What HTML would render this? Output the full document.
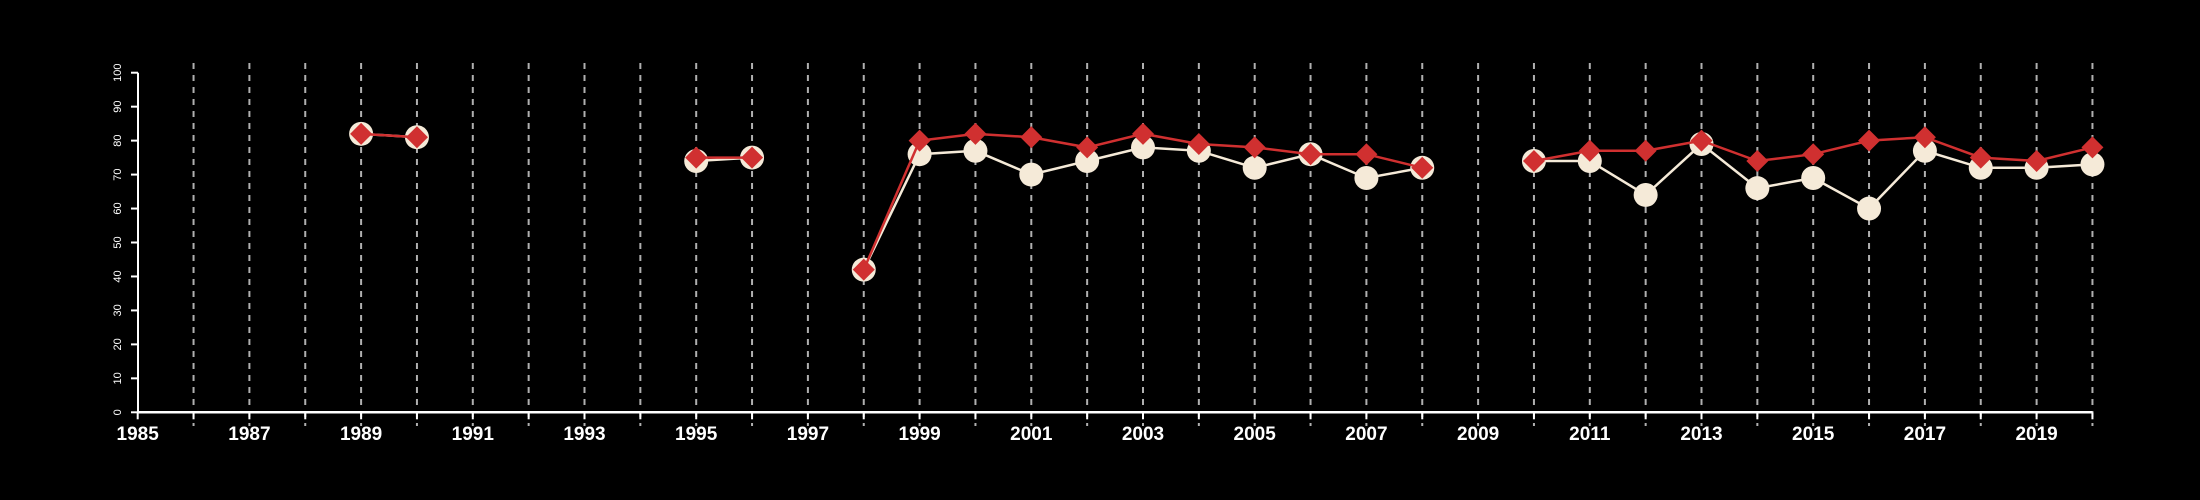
<!DOCTYPE html>
<html><head><meta charset="utf-8"><style>
html,body{margin:0;padding:0;background:#000;}
svg{display:block;font-family:"Liberation Sans",sans-serif;}
</style></head><body>
<svg id="chart" width="2200" height="500" viewBox="0 0 2200 500" xmlns="http://www.w3.org/2000/svg">
<rect width="2200" height="500" fill="#000"/>
<g id="grid"></g>
<g id="axes"></g>
<g id="series"></g>
</svg>
<script>
const years = [1989,1990,1995,1996,1998,1999,2000,2001,2002,2003,2004,2005,2006,2007,2008,2010,2011,2012,2013,2014,2015,2016,2017,2018,2019,2020];
const whiteValues = [82,81,74,75,42,76,77,70,74,78,77,72,76,69,72,74,74,64,79,66,69,60,77,72,72,73];
const redValues = [82,81,75,75,42,80,82,81,78,82,79,78,76,76,72,74,77,77,80,74,76,80,81,75,74,78];
const yTicks = [0,10,20,30,40,50,60,70,80,90,100];
const xTickLabels = [1985,1987,1989,1991,1993,1995,1997,1999,2001,2003,2005,2007,2009,2011,2013,2015,2017,2019];

const NS="http://www.w3.org/2000/svg";
const X0=137.7, XPX=55.85, Y0=412.3, YPX=3.396;
const xs=y=>X0+(y-1985)*XPX;
const ys=v=>Y0-v*YPX;
function mk(tag,attrs,parent){const e=document.createElementNS(NS,tag);for(const k in attrs)e.setAttribute(k,attrs[k]);parent.appendChild(e);return e;}
const grid=document.getElementById('grid'),axes=document.getElementById('axes'),ser=document.getElementById('series');

for(let yr=1986;yr<=2020;yr++){
  const l=mk('line',{x1:xs(yr),x2:xs(yr),y1:63,y2:426,stroke:'#b0b0b0','stroke-width':2,'stroke-dasharray':'6,6'},grid);
  
  
}
// axes
let a=mk('line',{x1:xs(1985),x2:xs(2020),y1:Y0,y2:Y0,stroke:'#fff','stroke-width':2.5},axes);


a=mk('line',{x1:X0-10,x2:X0-10,y1:ys(0),y2:ys(100),stroke:'#fff','stroke-width':2},axes);


a.setAttribute('x1',X0-80/3+0);a.setAttribute('x2',X0-80/3+0);
const yax=X0-(173-175)/3-80/3; // y-axis sits ~ x=138
a.setAttribute('x1',138-0);a.setAttribute('x2',138-0);
yTicks.forEach(v=>{
  const t=mk('line',{x1:131,x2:138,y1:ys(v),y2:ys(v),stroke:'#fff','stroke-width':2},axes);
  
  
  const tx=mk('text',{x:0,y:0,fill:'#fff','font-size':11,'text-anchor':'middle',transform:`translate(121,${ys(v)}) rotate(-90)`},axes);
  tx.textContent=v;
  
  
});
for(let yr=1985;yr<=2020;yr++){
  const t=mk('line',{x1:xs(yr),x2:xs(yr),y1:Y0,y2:Y0+7,stroke:'#fff','stroke-width':2},axes);
  
  
}
xTickLabels.forEach(yr=>{
  const tx=mk('text',{x:xs(yr),y:440,fill:'#fff','font-size':19,'font-weight':'bold','text-anchor':'middle'},axes);
  tx.textContent=yr;
  
  
});
function segs(vals){const out=[];let cur=[];years.forEach((yr,i)=>{if(i>0&&yr-years[i-1]>1){out.push(cur);cur=[];}cur.push([xs(yr),ys(vals[i])]);});out.push(cur);return out;}
segs(whiteValues).forEach((s,k)=>{
  const p=mk('polyline',{points:s.map(q=>q.join(',')).join(' '),fill:'none',stroke:'#f5ead8','stroke-width':2.5},ser);
  
  
});
years.forEach((yr,i)=>{
  const c=mk('circle',{cx:xs(yr),cy:ys(whiteValues[i]),r:12,fill:'#f5ead8'},ser);
  
  
});
segs(redValues).forEach(s=>{
  const p=mk('polyline',{points:s.map(q=>q.join(',')).join(' '),fill:'none',stroke:'#d03030','stroke-width':2.5},ser);
  
  
});
years.forEach((yr,i)=>{
  const x=xs(yr),y=ys(redValues[i]),d=11;
  const p=mk('polygon',{points:`${x},${y-d} ${x+d},${y} ${x},${y+d} ${x-d},${y}`,fill:'#d03030'},ser);
  
  
});
</script>
</body></html>
